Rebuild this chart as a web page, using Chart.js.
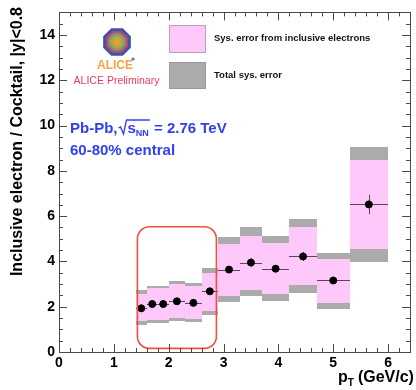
<!DOCTYPE html>
<html>
<head>
<meta charset="utf-8">
<script src="https://cdn.jsdelivr.net/npm/chart.js@4/dist/chart.umd.min.js"></script>
<style>
  html, body { margin: 0; padding: 0; background: #fff; }
  #wrap { width: 416px; height: 390px; }
</style>
</head>
<body>
<div id="wrap"><canvas id="c" width="416" height="390"></canvas></div>
<script>
// pT bins (GeV/c)
const binLow  = [1.4, 1.6, 1.8, 2.0, 2.3, 2.6, 2.9, 3.3, 3.7, 4.2, 4.7, 5.3];
const binHigh = [1.6, 1.8, 2.0, 2.3, 2.6, 2.9, 3.3, 3.7, 4.2, 4.7, 5.3, 6.0];
const ptCenter = [1.5, 1.7, 1.9, 2.15, 2.45, 2.75, 3.1, 3.5, 3.95, 4.45, 5.0, 5.65];

// Inclusive electron / cocktail ratio with statistical errors
const ratio   = [1.93, 2.12, 2.12, 2.24, 2.17, 2.68, 3.64, 3.95, 3.68, 4.22, 3.16, 6.52];
const statErr = [0.08, 0.08, 0.08, 0.10, 0.10, 0.12, 0.15, 0.20, 0.15, 0.20, 0.15, 0.43];

// Systematic bands: inclusive-electron part and total
const sysInclLow  = [1.36, 1.42, 1.42, 1.50, 1.46, 1.82, 2.47, 2.72, 2.57, 2.95, 2.18, 4.56];
const sysInclHigh = [2.55, 2.83, 2.83, 3.00, 2.90, 3.48, 4.75, 5.14, 4.82, 5.50, 4.09, 8.50];
const sysTotLow   = [1.20, 1.27, 1.27, 1.36, 1.31, 1.63, 2.22, 2.47, 2.25, 2.59, 1.89, 3.99];
const sysTotHigh  = [2.72, 2.93, 2.93, 3.12, 3.03, 3.73, 5.07, 5.50, 5.14, 5.86, 4.39, 9.07];

// Axis ticks
const xTickLabels = [0, 1, 2, 3, 4, 5, 6];
const yTickLabels = [0, 2, 4, 6, 8, 10, 12, 14];

// Highlighted low-pT region (pT range, ratio range)
const boxPt = [1.43, 2.87];
const boxRatio = [0.16, 5.53];

const PINK = '#ffc8fb';
const GRAY = '#ababab';
const FONT = '"Liberation Sans", Arial, Helvetica, sans-serif';

const bandsPlugin = {
  id: 'bands',
  beforeDatasetsDraw(chart) {
    const { ctx, scales: { x, y }, chartArea } = chart;
    const px = (v) => Math.round(x.getPixelForValue(v));
    const py = (v) => Math.round(y.getPixelForValue(v));
    ctx.save();
    ctx.beginPath();
    ctx.rect(chartArea.left, chartArea.top, chartArea.right - chartArea.left, chartArea.bottom - chartArea.top);
    ctx.clip();
    for (let i = 0; i < binLow.length; i++) {
      const x0 = px(binLow[i]);
      const x1 = px(binHigh[i]);
      ctx.fillStyle = GRAY;
      const gt = py(sysTotHigh[i]);
      const gb = py(sysTotLow[i]);
      ctx.fillRect(x0, gt, x1 - x0, gb - gt);
    }
    for (let i = 0; i < binLow.length; i++) {
      const x0 = px(binLow[i]);
      const x1 = px(binHigh[i]);
      ctx.fillStyle = PINK;
      const pt = py(sysInclHigh[i]);
      const pb = py(sysInclLow[i]);
      ctx.fillRect(x0, pt, x1 - x0, pb - pt);
    }
    // error bars: bin width horizontally, statistical error vertically
    ctx.strokeStyle = 'rgba(40,20,40,0.75)';
    ctx.lineWidth = 1;
    for (let i = 0; i < ptCenter.length; i++) {
      const cx = px(ptCenter[i]) + 0.5;
      const cy = py(ratio[i]) + 0.5;
      ctx.beginPath();
      ctx.moveTo(px(binLow[i]), cy);
      ctx.lineTo(px(binHigh[i]), cy);
      ctx.moveTo(cx, y.getPixelForValue(ratio[i] + statErr[i]));
      ctx.lineTo(cx, y.getPixelForValue(ratio[i] - statErr[i]));
      ctx.stroke();
    }
    ctx.restore();
  },
  afterDatasetsDraw(chart) {
    const { ctx, scales: { x, y } } = chart;
    const l = x.getPixelForValue(boxPt[0]), r = x.getPixelForValue(boxPt[1]);
    const t = y.getPixelForValue(boxRatio[1]), b = y.getPixelForValue(boxRatio[0]);
    ctx.save();
    ctx.strokeStyle = '#f0503c';
    ctx.lineWidth = 1.6;
    ctx.beginPath();
    ctx.roundRect(l, t, r - l, b - t, 12);
    ctx.stroke();
    ctx.restore();
  }
};

const framePlugin = {
  id: 'frame',
  afterDraw(chart) {
    const { ctx, scales: { x, y }, chartArea: a } = chart;
    ctx.save();
    ctx.strokeStyle = '#4a4a4a';
    ctx.lineWidth = 1;
    ctx.strokeRect(Math.round(a.left) + 0.5, Math.round(a.top) + 0.5,
                   Math.round(a.right - a.left), Math.round(a.bottom - a.top));
    ctx.beginPath();
    // x ticks (major every 1, minor every 0.2) on bottom and top edges
    for (let k = 0; k <= 32; k++) {
      const v = k * 0.2;
      const px = Math.round(x.getPixelForValue(v)) + 0.5;
      const len = (k % 5 === 0) ? 8 : 4;
      ctx.moveTo(px, a.bottom); ctx.lineTo(px, a.bottom - len);
      ctx.moveTo(px, a.top); ctx.lineTo(px, a.top + len);
    }
    // y ticks (major every 2, minor every 0.5) on left and right edges
    for (let k = 0; k <= 30; k++) {
      const v = k * 0.5;
      const py = Math.round(y.getPixelForValue(v)) + 0.5;
      const len = (k % 4 === 0) ? 8 : 4;
      ctx.moveTo(a.left, py); ctx.lineTo(a.left + len, py);
      ctx.moveTo(a.right, py); ctx.lineTo(a.right - len, py);
    }
    ctx.stroke();

    // axis titles
    ctx.fillStyle = '#000';
    ctx.font = 'bold 16px ' + FONT;
    ctx.textBaseline = 'alphabetic';
    ctx.save();
    ctx.translate(22, 7);
    ctx.rotate(-Math.PI / 2);
    ctx.textAlign = 'right';
    ctx.fillText('Inclusive electron / Cocktail, |y|<0.8', 0, 0);
    ctx.restore();

    ctx.textAlign = 'left';
    let xt = 338;
    ctx.font = 'bold 16px ' + FONT;
    ctx.fillText('p', xt, 382);
    xt += ctx.measureText('p').width;
    ctx.font = 'bold 10px ' + FONT;
    ctx.fillText('T', xt, 386);
    xt += ctx.measureText('T').width + 4;
    ctx.font = 'bold 16px ' + FONT;
    ctx.fillText('(GeV/c)', xt, 382);

    // legend
    ctx.fillStyle = PINK;
    ctx.fillRect(169, 25, 36, 27);
    ctx.strokeStyle = '#b8a0b8';
    ctx.strokeRect(169.5, 25.5, 36, 27);
    ctx.fillStyle = GRAY;
    ctx.fillRect(169, 62, 36, 26);
    ctx.strokeStyle = '#999';
    ctx.strokeRect(169.5, 62.5, 36, 26);
    ctx.fillStyle = '#111';
    ctx.font = 'bold 9.5px ' + FONT;
    ctx.fillText('Sys. error from inclusive electrons', 214, 41);
    ctx.fillText('Total sys. error', 214, 78);

    // collision system label
    ctx.fillStyle = '#3140ee';
    ctx.strokeStyle = '#3140ee';
    ctx.font = 'bold 15px ' + FONT;
    let bx = 70;
    const base1 = 133;
    ctx.fillText('Pb-Pb,', bx, base1);
    bx += ctx.measureText('Pb-Pb,').width + 1;
    const sx = bx + 9;
    ctx.font = 'bold 15px ' + FONT;
    const sw = ctx.measureText('s').width;
    ctx.font = 'bold 9px ' + FONT;
    const nw = ctx.measureText('NN').width;
    ctx.lineWidth = 1.3;
    ctx.beginPath();
    ctx.moveTo(bx, base1 - 5);
    ctx.lineTo(bx + 2, base1 - 6);
    ctx.lineTo(bx + 5, base1 + 1);
    ctx.lineTo(bx + 8, base1 - 13);
    ctx.lineTo(sx + sw + nw + 1, base1 - 13);
    ctx.stroke();
    ctx.font = 'bold 15px ' + FONT;
    ctx.fillText('s', sx, base1);
    ctx.font = 'bold 9px ' + FONT;
    ctx.fillText('NN', sx + sw, base1 + 3);
    ctx.font = 'bold 15px ' + FONT;
    ctx.fillText(' = 2.76 TeV', sx + sw + nw + 1, base1);
    ctx.fillText('60-80% central', 70, 155);

    // ALICE logo
    const cx = 117, cy = 42;
    const oct = (r) => {
      ctx.beginPath();
      for (let k = 0; k < 8; k++) {
        const ang = Math.PI / 8 + k * Math.PI / 4;
        const qx = cx + r * Math.cos(ang), qy = cy + r * Math.sin(ang);
        if (k === 0) ctx.moveTo(qx, qy); else ctx.lineTo(qx, qy);
      }
      ctx.closePath();
    };
    oct(15); ctx.fillStyle = '#3b55a8'; ctx.fill();
    oct(12); ctx.fillStyle = '#c8406a'; ctx.fill();
    const g = ctx.createRadialGradient(cx, cy, 1, cx, cy, 10);
    g.addColorStop(0, '#f0a030');
    g.addColorStop(0.5, '#a8a848');
    g.addColorStop(1, '#6a7a9a');
    oct(10); ctx.fillStyle = g; ctx.fill();
    ctx.fillStyle = '#4a78c8';
    ctx.beginPath(); ctx.arc(133, 59, 1.6, 0, Math.PI * 2); ctx.fill();
    ctx.textAlign = 'center';
    ctx.fillStyle = '#f5a248';
    ctx.font = 'bold 12px ' + FONT;
    ctx.fillText('ALICE', 115, 69);
    ctx.fillStyle = '#ec3a5a';
    ctx.font = '10.5px ' + FONT;
    ctx.fillText('ALICE Preliminary', 116.5, 84);
    ctx.restore();
  }
};

new Chart(document.getElementById('c'), {
  type: 'scatter',
  data: {
    datasets: [{
      data: ptCenter.map((v, i) => ({ x: v, y: ratio[i] })),
      backgroundColor: '#000',
      borderColor: '#000',
      pointRadius: 3.5,
      pointHoverRadius: 3.5
    }]
  },
  options: {
    responsive: false,
    animation: false,
    events: [],
    layout: { padding: { top: 5, right: 6, left: 0, bottom: 0 } },
    plugins: { legend: { display: false }, tooltip: { enabled: false } },
    scales: {
      x: {
        type: 'linear', min: 0, max: 6.4,
        grid: { display: false, drawTicks: false },
        border: { display: false },
        afterBuildTicks: (s) => { s.ticks = xTickLabels.map(v => ({ value: v })); },
        afterFit: (s) => { s.height = 38; },
        ticks: { color: '#000', padding: 3, maxRotation: 0, font: { family: FONT, size: 14, weight: 'bold' } }
      },
      y: {
        type: 'linear', min: 0, max: 15,
        grid: { display: false, drawTicks: false },
        border: { display: false },
        afterBuildTicks: (s) => { s.ticks = yTickLabels.map(v => ({ value: v })); },
        afterFit: (s) => { s.width = 59; },
        ticks: { color: '#000', padding: 4, font: { family: FONT, size: 14, weight: 'bold' } }
      }
    }
  },
  plugins: [bandsPlugin, framePlugin]
});
</script>
</body>
</html>
